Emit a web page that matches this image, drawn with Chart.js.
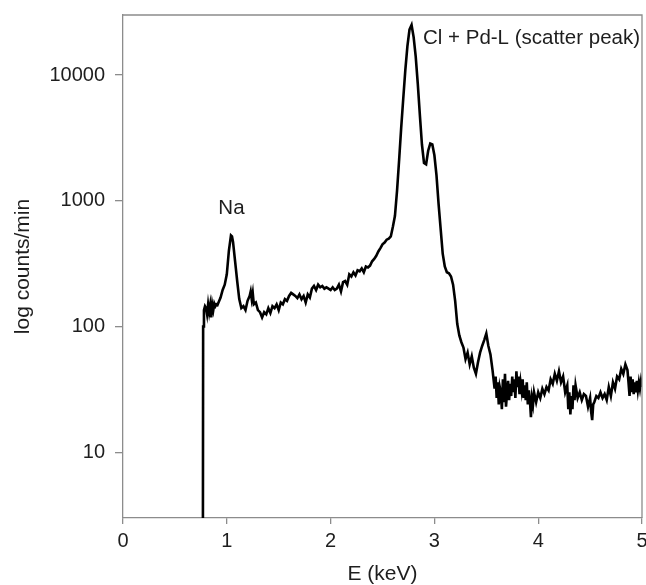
<!DOCTYPE html>
<html>
<head>
<meta charset="utf-8">
<script src="https://cdn.jsdelivr.net/npm/chart.js@4/dist/chart.umd.min.js"></script>
<style>
  html, body { margin: 0; padding: 0; background: #ffffff; }
  #wrap { width: 646px; height: 585px; }
</style>
</head>
<body>
<div id="wrap"><canvas id="c" width="646" height="585"></canvas></div>
<script>
// ---- data ----
const energy = [
  0.770, 0.772, 0.78, 0.79, 0.80, 0.81, 0.82, 0.83, 0.84, 0.85, 0.86, 0.87, 0.88, 0.89, 0.90, 0.91, 0.92,
  0.94, 0.96, 0.98, 1.00, 1.02, 1.04, 1.05, 1.06, 1.08, 1.10, 1.12, 1.14, 1.16, 1.18, 1.20, 1.22, 1.23,
  1.24, 1.25, 1.26, 1.28, 1.30, 1.32, 1.34, 1.36, 1.38, 1.40, 1.42, 1.44, 1.46, 1.48, 1.50, 1.52, 1.54,
  1.56, 1.58, 1.60, 1.62, 1.64, 1.66, 1.68, 1.70, 1.72, 1.74, 1.76, 1.78, 1.80, 1.82, 1.84, 1.86, 1.88,
  1.90, 1.92, 1.94, 1.96, 1.98, 2.00, 2.02, 2.04, 2.06, 2.08, 2.10, 2.12, 2.14, 2.16, 2.18, 2.20, 2.22,
  2.24, 2.26, 2.28, 2.30, 2.32, 2.34, 2.36, 2.38, 2.40, 2.42, 2.44, 2.46, 2.48, 2.50, 2.52, 2.54, 2.56,
  2.58, 2.60, 2.62, 2.64, 2.66, 2.68, 2.70, 2.72, 2.74, 2.76, 2.78, 2.80, 2.82, 2.84, 2.86, 2.88, 2.90,
  2.92, 2.94, 2.96, 2.98, 3.00, 3.02, 3.04, 3.06, 3.08, 3.10, 3.12, 3.14, 3.16, 3.18, 3.20, 3.22, 3.24,
  3.26, 3.28, 3.30, 3.32, 3.34, 3.36, 3.38, 3.40, 3.42, 3.44, 3.46, 3.48, 3.50, 3.52, 3.54, 3.56, 3.58,
  3.59, 3.60, 3.61, 3.62, 3.63, 3.64, 3.65, 3.66, 3.67, 3.68, 3.69, 3.70, 3.71, 3.72, 3.73, 3.74, 3.75,
  3.76, 3.77, 3.78, 3.79, 3.80, 3.81, 3.82, 3.83, 3.84, 3.85, 3.86, 3.87, 3.88, 3.89, 3.90, 3.91, 3.92,
  3.93, 3.94, 3.95, 3.96, 3.98, 4.00, 4.02, 4.04, 4.06, 4.08, 4.10, 4.12, 4.14, 4.16, 4.18, 4.20, 4.22,
  4.24, 4.26, 4.28, 4.29, 4.30, 4.31, 4.32, 4.33, 4.34, 4.35, 4.36, 4.38, 4.40, 4.42, 4.44, 4.46, 4.48,
  4.50, 4.51, 4.52, 4.53, 4.54, 4.56, 4.58, 4.60, 4.62, 4.64, 4.66, 4.68, 4.70, 4.72, 4.74, 4.76, 4.78,
  4.80, 4.82, 4.84, 4.86, 4.87, 4.88, 4.89, 4.90, 4.91, 4.92, 4.93, 4.94, 4.95, 4.96, 4.97, 4.98, 4.99,
  5.00
];
const counts = [
  3, 100, 135, 145, 140, 125, 150, 130, 148, 118, 150, 135, 152, 145, 150, 148, 155,
  170, 195, 215, 260, 400, 530, 520, 470, 330, 230, 165, 140, 145, 135, 160, 175, 190,
  165, 185, 150, 155, 135, 130, 118, 130, 125, 140, 128, 145, 140, 150, 135, 155, 150,
  165, 160, 175, 185, 180, 175, 168, 180, 165, 175, 155, 180, 170, 200, 210, 195, 215,
  205, 210, 200, 205, 200, 195, 205, 195, 200, 215, 190, 225, 230, 215, 260, 250, 270,
  255, 280, 275, 290, 270, 300, 295, 305, 330, 345, 365, 395, 420, 450, 465, 490, 500,
  520, 620, 760, 1200, 2100, 3800, 6500, 11000, 17000, 23000, 25000, 20000, 14000, 8500, 4800, 2800, 2000,
  1950, 2500, 2850, 2800, 2300, 1600, 950, 600, 380, 300, 270, 265, 250, 215, 160, 105, 85,
  75, 68, 55, 62, 50, 58, 47, 42, 52, 62, 70, 78, 88, 70, 60, 45, 32,
  40, 27, 36, 24, 33, 30, 22, 38, 25, 42, 23, 30, 37, 26, 35, 28, 40,
  30, 38, 27, 44, 33, 40, 29, 36, 31, 38, 27, 34, 26, 36, 24, 31, 26,
  19, 27, 24, 30, 25, 30, 27, 32, 29, 33, 31, 38, 35, 42, 37, 44, 36,
  40, 30, 34, 22, 30, 20, 28, 22, 34, 26, 34, 27, 30, 26, 29, 28, 23,
  27, 21, 18, 24, 25, 28, 27, 30, 27, 29, 26, 33, 28, 36, 32, 40, 38,
  46, 42, 50, 45, 36, 28, 40, 30, 38, 29, 36, 30, 37, 31, 36, 32, 37,
  33
];
const xTicks = [0, 1, 2, 3, 4, 5];
const yTicks = [10, 100, 1000, 10000];
const noteText = ["Na", "Cl + Pd-L (scatter peak)"];
const noteEnergy = [1.045, 2.89];
const noteCounts = [870, 19700];
const noteAlign = ["center", "left"];

// ---- chart ----
const FONT = "'Liberation Sans', Arial, Helvetica, sans-serif";
const AXIS_GRAY = "#8c8c8c";
const TEXT = "#1e1e1e";

const points = energy.map((e, i) => ({ x: e, y: counts[i] }));

const framePlugin = {
  id: "frame",
  afterDraw(chart) {
    const { ctx, chartArea: a } = chart;
    ctx.save();
    ctx.strokeStyle = AXIS_GRAY;
    ctx.lineWidth = 1.3;
    ctx.beginPath();
    ctx.moveTo(a.left, a.top);
    ctx.lineTo(a.right, a.top);
    ctx.lineTo(a.right, a.bottom);
    ctx.stroke();
    ctx.restore();
  }
};

const notePlugin = {
  id: "notes",
  afterDatasetsDraw(chart) {
    const { ctx, scales } = chart;
    ctx.save();
    ctx.fillStyle = TEXT;
    ctx.font = "20.5px " + FONT;
    ctx.textBaseline = "middle";
    noteText.forEach((t, i) => {
      ctx.textAlign = noteAlign[i];
      ctx.fillText(t, scales.x.getPixelForValue(noteEnergy[i]), scales.y.getPixelForValue(noteCounts[i]));
    });
    ctx.restore();
  }
};

new Chart(document.getElementById("c"), {
  type: "line",
  data: {
    datasets: [{
      data: points,
      borderColor: "#000000",
      borderWidth: 2.6,
      pointRadius: 0,
      tension: 0,
      fill: false
    }]
  },
  options: {
    responsive: false,
    animation: false,
    devicePixelRatio: 1,
    layout: { padding: { top: 15, right: 4, left: 0, bottom: 0 } },
    plugins: { legend: { display: false }, tooltip: { enabled: false } },
    scales: {
      x: {
        type: "linear",
        min: 0,
        max: 5,
        afterBuildTicks(s) { s.ticks = xTicks.map(v => ({ value: v })); },
        afterFit(s) { s.height = 67; s.paddingLeft = 0; s.paddingRight = 0; },
        grid: { drawOnChartArea: false, drawTicks: true, tickLength: 6, color: AXIS_GRAY, lineWidth: 1.3 },
        border: { color: AXIS_GRAY, width: 1.3 },
        ticks: { color: TEXT, font: { family: FONT, size: 20 }, padding: 5, maxRotation: 0, callback: v => String(v) },
        title: { display: true, text: "E (keV)", color: TEXT, font: { family: FONT, size: 21, lineHeight: 1.0 }, padding: 0 }
      },
      y: {
        type: "logarithmic",
        min: 3,
        max: 30000,
        afterBuildTicks(s) { s.ticks = yTicks.map(v => ({ value: v })); },
        afterFit(s) { s.width = 123; s.paddingTop = 0; s.paddingBottom = 0; },
        grid: { drawOnChartArea: false, drawTicks: true, tickLength: 8, color: AXIS_GRAY, lineWidth: 1.3 },
        border: { color: AXIS_GRAY, width: 1.3 },
        ticks: { color: TEXT, font: { family: FONT, size: 20 }, padding: 10, callback: v => String(v) },
        title: { display: true, text: "log counts/min", color: TEXT, font: { family: FONT, size: 21 }, padding: { top: 11, bottom: 0 } }
      }
    }
  },
  plugins: [framePlugin, notePlugin]
});
</script>
</body>
</html>
